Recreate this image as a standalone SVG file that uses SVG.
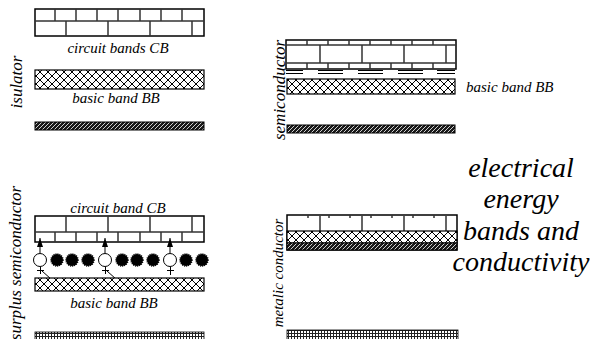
<svg xmlns="http://www.w3.org/2000/svg" width="592" height="339" viewBox="0 0 592 339">
<style>
.box{fill:#fff;stroke:#000;stroke-width:1.5}
.br{stroke:#333;stroke-width:1.5;fill:none}
.xh{fill:url(#xh);stroke:#000;stroke-width:1.2}
.dk{fill:url(#dk);stroke:#000;stroke-width:1}
.gr{fill:url(#gr);stroke:#000;stroke-width:0.8}
.ln{stroke:#000;stroke-width:1;fill:none}
</style>
<defs>
<pattern id="xh" width="8" height="8" patternUnits="userSpaceOnUse"><rect width="8" height="8" fill="#fff"/><path d="M0,0L8,8M8,0L0,8" stroke="#000" stroke-width="1"/></pattern>
<pattern id="dk" width="4" height="4" patternUnits="userSpaceOnUse"><rect width="4" height="4" fill="#1a1a1a"/><path d="M-1,1L1,-1M0,4L4,0M3,5L5,3" stroke="#fff" stroke-width="0.8"/></pattern>
<pattern id="gr" width="3" height="3" patternUnits="userSpaceOnUse"><rect width="3" height="3" fill="#fff"/><path d="M0,0.5H3M0.5,0V3" stroke="#222" stroke-width="1"/></pattern>
<marker id="ah" viewBox="0 0 9 6" refX="9" refY="3" markerWidth="9" markerHeight="6" orient="auto" markerUnits="userSpaceOnUse"><path d="M0,0L9,3L0,6z" fill="#000"/></marker>
</defs>
<g id="insulator-cb">
<rect class="box" x="35" y="9" width="169" height="27"/>
<path class="br" d="M35,21H204M55,9V21M76,9V21M97,9V21M118,9V21M140,9V21M161,9V21M182,9V21M66,21V36M108,21V36M150,21V36M192,21V36"/>
</g>
<text style="font-family:'Liberation Serif',serif;font-style:italic;font-size:15px" x="118" y="53" text-anchor="middle">circuit bands CB</text>
<g id="insulator-bb"><rect class="xh" x="35" y="70" width="169" height="19"/></g>
<text style="font-family:'Liberation Serif',serif;font-style:italic;font-size:15px" x="116" y="103" text-anchor="middle">basic band BB</text>
<g id="insulator-low"><rect class="dk" x="35" y="122" width="169" height="8"/></g>
<text style="font-family:'Liberation Serif',serif;font-style:italic;font-size:17px" transform="translate(22,82) rotate(-90)" text-anchor="middle">isulator</text>
<g id="semi-cb">
<rect class="box" x="286" y="40" width="170" height="29"/>
<path class="br" d="M286,45H456M286,63H456M307,40V45M328,40V45M349,40V45M370,40V45M391,40V45M412,40V45M433,40V45M320,45V63M362,45V63M404,45V63M446,45V63M307,63V69M328,63V69M349,63V69M370,63V69M391,63V69M412,63V69M433,63V69"/>
<path class="ln" stroke-width="1.3" d="M286,70.5H303M318,70.5H343M358,70.5H383M398,70.5H423M437,70.5H455M286,73.5H303M318,73.5H343M358,73.5H383M398,73.5H423M437,73.5H455"/>
</g>
<g id="semi-bb"><rect class="xh" x="287" y="79" width="168" height="15"/></g>
<text style="font-family:'Liberation Serif',serif;font-style:italic;font-size:15px" x="466" y="92">basic band BB</text>
<g id="semi-low"><rect class="dk" x="287" y="125" width="168" height="8"/></g>
<text style="font-family:'Liberation Serif',serif;font-style:italic;font-size:17px" transform="translate(285,90) rotate(-90)" text-anchor="middle">semiconductor</text>
<g id="title">
<text style="font-family:'Liberation Serif',serif;font-style:italic;font-size:28px" x="521" y="177" text-anchor="middle">electrical</text>
<text style="font-family:'Liberation Serif',serif;font-style:italic;font-size:28px" x="521" y="208" text-anchor="middle">energy</text>
<text style="font-family:'Liberation Serif',serif;font-style:italic;font-size:28px" x="521" y="240" text-anchor="middle">bands and</text>
<text style="font-family:'Liberation Serif',serif;font-style:italic;font-size:28px" x="521" y="271" text-anchor="middle">conductivity</text>
</g>
<text style="font-family:'Liberation Serif',serif;font-style:italic;font-size:15px" x="118" y="213" text-anchor="middle">circuit band CB</text>
<g id="surplus-cb">
<rect class="box" x="35" y="216" width="169" height="26"/>
<path class="br" d="M35,232H204M66,216V232M108,216V232M150,216V232M192,216V232M55,232V242M76,232V242M97,232V242M118,232V242M140,232V242M161,232V242M182,232V242"/>
</g>
<g id="electrons">
<g fill="#000" stroke="#000" stroke-width="1.5" stroke-dasharray="1 1">
<circle cx="57" cy="260" r="6"/><circle cx="72" cy="260" r="6"/><circle cx="88" cy="260" r="6"/>
<circle cx="122" cy="260" r="6"/><circle cx="137" cy="260" r="6"/><circle cx="153" cy="260" r="6"/>
<circle cx="186" cy="260" r="6"/><circle cx="202" cy="260" r="6"/>
</g>
<g fill="#fff" stroke="#000" stroke-width="1">
<circle cx="40" cy="260" r="6.5"/><circle cx="105" cy="260" r="6.5"/><circle cx="170" cy="260" r="6.5"/>
</g>
<path class="ln" d="M37,270.5H44M40.5,267V274M102,270.5H109M105.5,267V274M167,270.5H174M170.5,267V275"/>
</g>
<g id="connectors">
<path class="ln" marker-end="url(#ah)" d="M40,253V238"/>
<path class="ln" marker-end="url(#ah)" d="M105,253V238"/>
<path class="ln" marker-end="url(#ah)" d="M170,253V238"/>
<path class="ln" d="M42,271L51,279M107,271L116,279"/>
</g>
<g id="surplus-bb"><rect class="xh" x="35" y="278" width="169" height="13"/></g>
<text style="font-family:'Liberation Serif',serif;font-style:italic;font-size:15px" x="114" y="308" text-anchor="middle">basic band BB</text>
<g id="surplus-low"><rect class="gr" x="35" y="332" width="169" height="10"/></g>
<text style="font-family:'Liberation Serif',serif;font-style:italic;font-size:17px" transform="translate(21,263) rotate(-90)" text-anchor="middle">surplus semiconductor</text>
<g id="metal-band">
<rect class="box" x="287" y="215" width="170" height="35"/>
<path class="br" d="M320,216V231M362,216V231M404,216V231M446,216V231M308,215V218M329,215V218M350,215V218M371,215V218M392,215V218M413,215V218M434,215V218"/>
<rect class="xh" x="287" y="231" width="170" height="12"/>
<rect class="dk" x="287" y="243" width="170" height="7"/>
</g>
<g id="metal-low"><rect class="gr" x="287" y="330" width="171" height="12"/></g>
<text style="font-family:'Liberation Serif',serif;font-style:italic;font-size:15px" transform="translate(283,273) rotate(-90)" text-anchor="middle">metalic conductor</text>
</svg>
